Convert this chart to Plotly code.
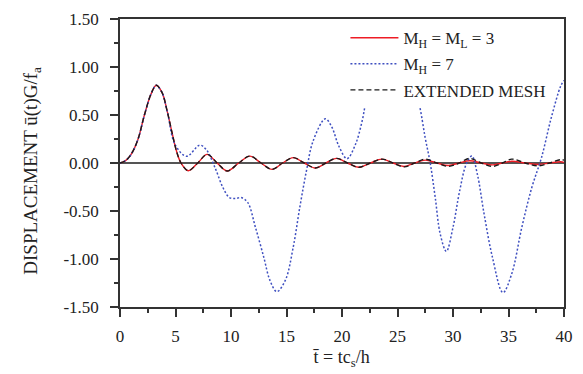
import plotly.graph_objects as go

# ---- data ----
t_m3 = [0, 0.5, 1.0, 1.6, 2.2, 2.8, 3.27, 3.8, 4.25, 4.7, 5.1, 5.5, 6.15, 7.0, 7.85, 8.75, 9.65,
        10.7, 11.7, 12.7, 13.7, 14.65, 15.6, 16.6, 17.6, 18.55, 19.5, 20.5, 21.5, 22.55, 23.6,
        24.6, 25.6, 26.55, 27.5, 28.55, 29.6, 30.55, 31.5, 32.55, 33.6, 34.45, 35.3, 36.5,
        37.7, 38.7, 39.7, 40]
u_m3 = [0, 0.025, 0.09, 0.24, 0.50, 0.72, 0.81, 0.73, 0.54, 0.31, 0.12, 0.0, -0.08, 0.0, 0.09,
        0.0, -0.083, 0.0, 0.072, 0.0, -0.066, 0.0, 0.056, 0.0, -0.052, 0.0, 0.048, 0.0, -0.045,
        0.0, 0.04, 0.0, -0.036, 0.0, 0.03, 0.0, -0.026, 0.0, 0.024, 0.0, -0.02, 0.0, 0.018, 0.0,
        -0.015, 0.0, 0.013, 0.006]

t_ext = t_m3
u_ext = [0, 0.025, 0.09, 0.24, 0.50, 0.72, 0.81, 0.73, 0.54, 0.31, 0.12, 0.0, -0.08, 0.0, 0.09,
         0.0, -0.083, 0.0, 0.072, 0.0, -0.066, 0.0, 0.056, 0.0, -0.052, 0.0, 0.048, 0.0, -0.045,
         0.0, 0.04, 0.0, -0.04, 0.0, 0.04, 0.0, -0.035, 0.0, 0.048, 0.0, -0.035, 0.0, 0.04, 0.0,
         -0.03, 0.0, 0.035, 0.03]

t_m7 = [0, 0.5, 1.0, 1.6, 2.2, 2.8, 3.27, 3.8, 4.25, 4.97, 6.0, 7.18, 7.77, 8.6, 9.27, 9.86,
        10.4, 10.9, 11.5, 12.2, 12.95, 13.5, 14.13, 14.9, 15.6, 16.2, 16.8, 17.4, 18.5, 19.1,
        19.7, 20.45, 21.2, 21.8, 22.2, 23.2, 24.5, 25.8, 26.9, 27.5, 27.96, 28.4, 28.85, 29.4,
        30.0, 30.6, 31.2, 31.7, 32.2, 32.8, 33.55, 34.5, 35.3, 36.2, 37.1, 37.97, 38.85, 39.7, 40]
u_m7 = [0, 0.025, 0.09, 0.24, 0.50, 0.72, 0.81, 0.73, 0.54, 0.19, 0.07, 0.186, 0.14, -0.06,
        -0.255, -0.36, -0.37, -0.36, -0.41, -0.67, -0.98, -1.22, -1.34, -1.22, -0.88, -0.46,
        -0.08, 0.23, 0.46, 0.37, 0.18, 0.045, 0.19, 0.43, 0.66, 1.05, 1.2, 1.05, 0.64, 0.26,
        -0.01, -0.36, -0.74, -0.92, -0.67, -0.29, -0.01, 0.072, -0.12, -0.53, -0.98, -1.35,
        -1.15, -0.67, -0.255, 0.055, 0.47, 0.80, 0.86]

y_ticks = [-1.5, -1.0, -0.5, 0.0, 0.5, 1.0, 1.5]
x_ticks = [0, 5, 10, 15, 20, 25, 30, 35, 40]

FONT = "Liberation Serif, Times New Roman, serif"
INK = "#222222"
AX = "#333333"

fig = go.Figure()
fig.add_trace(go.Scatter(x=t_m3, y=u_m3, mode="lines", line_shape="spline",
                         name="M<sub>H</sub> = M<sub>L</sub> = 3", legendgroup="a",
                         line=dict(color="#ee1c25", width=1.4)))
fig.add_trace(go.Scatter(x=t_m7, y=u_m7, mode="lines", line_shape="spline",
                         name="M<sub>H</sub> = 7", legendgroup="b",
                         line=dict(color="#3e4fc0", width=1.5, dash="2px,2px")))
fig.add_trace(go.Scatter(x=t_ext, y=u_ext, mode="lines", line_shape="spline",
                         name="EXTENDED MESH", legendgroup="c",
                         line=dict(color="#1a1a1a", width=1.4, dash="5px,3px")))

fig.update_layout(
    width=583, height=374,
    margin=dict(l=120, r=10, t=17, b=67),
    paper_bgcolor="white", plot_bgcolor="white",
    font=dict(family=FONT, size=17, color=INK),
    showlegend=True,
    legend=dict(x=(350 - 120) / 453, xanchor="left", y=0.996, yanchor="top",
                bgcolor="white", borderwidth=0, tracegroupgap=1, itemwidth=48,
                font=dict(family=FONT, size=17, color=INK)),
    xaxis=dict(range=[0, 40], tickvals=x_ticks, ticktext=[str(v) for v in x_ticks],
               ticks="outside", ticklen=8, tickwidth=1.5, tickcolor=AX,
               showline=True, linecolor=AX, linewidth=1.5, mirror=True,
               showgrid=False, zeroline=False, ticklabelstandoff=5,
               minor=dict(ticks="outside", ticklen=4, tickwidth=1.5, tickcolor=AX, dtick=2.5,
                          showgrid=False),
               tickfont=dict(family=FONT, size=17, color=INK)),
    yaxis=dict(range=[-1.5, 1.5], tickvals=y_ticks, ticktext=[f"{v:.2f}" for v in y_ticks],
               ticks="outside", ticklen=8, tickwidth=1.5, tickcolor=AX,
               showline=True, linecolor=AX, linewidth=1.5, mirror=True,
               showgrid=False, zeroline=True, zerolinecolor="#555555", zerolinewidth=1.5,
               ticklabelstandoff=8,
               minor=dict(ticks="outside", ticklen=4, tickwidth=1.5, tickcolor=AX, dtick=0.25,
                          showgrid=False),
               tickfont=dict(family=FONT, size=17, color=INK)),
)

# axis titles
fig.add_annotation(xref="paper", yref="paper", x=(30 - 120) / 453, y=(307 - 170) / 290,
                   text="DISPLACEMENT u\u0304(t)G/f<sub>a</sub>", textangle=-90,
                   showarrow=False, xanchor="center", yanchor="middle",
                   font=dict(family=FONT, size=19, color=INK))
fig.add_annotation(xref="paper", yref="paper", x=(346 - 120) / 453, y=(307 - 359) / 290,
                   text="t\u0304 = tc<sub>s</sub>/h",
                   showarrow=False, xanchor="center", yanchor="middle",
                   font=dict(family=FONT, size=18, color=INK))

fig.write_html("out.html")
